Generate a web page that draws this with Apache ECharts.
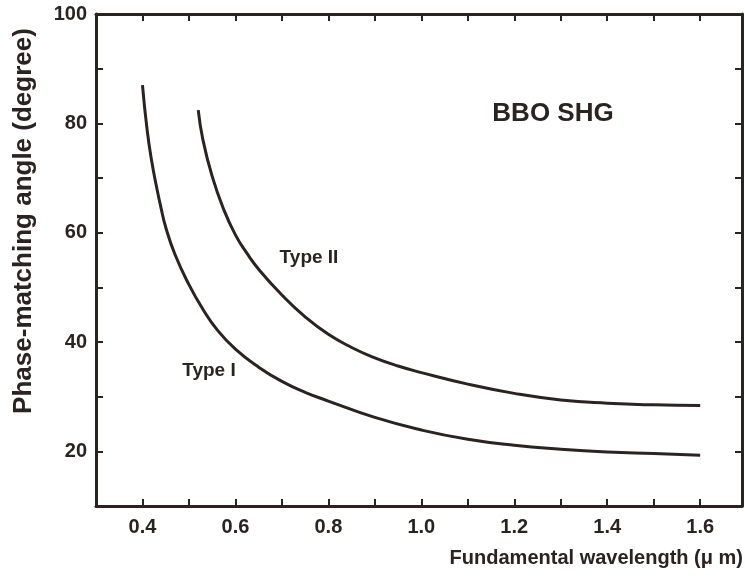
<!DOCTYPE html>
<html>
<head>
<meta charset="utf-8">
<script src="https://cdn.jsdelivr.net/npm/echarts@6.0.0/dist/echarts.min.js"></script>
<style>
  html, body { margin: 0; padding: 0; background: #fff; }
  #chart { width: 745px; height: 580px; }
</style>
</head>
<body>
<div id="chart"></div>
<script>
// values
const typeIWavelength = [0.40, 0.41, 0.42, 0.43, 0.44, 0.45, 0.47, 0.50, 0.53, 0.56, 0.60, 0.65, 0.70, 0.75, 0.80, 0.90, 1.00, 1.10, 1.20, 1.30, 1.40, 1.50, 1.60]
const typeIAngle = [87, 78.8, 73, 68.5, 64.5, 61, 56, 50.5, 46.0, 42.3, 38.7, 35.4, 32.8, 30.8, 29.2, 26.2, 23.9, 22.2, 21.1, 20.4, 19.9, 19.6, 19.3]

const typeIIWavelength = [0.52, 0.53, 0.55, 0.575, 0.60, 0.625, 0.65, 0.70, 0.75, 0.80, 0.85, 0.90, 0.95, 1.00, 1.10, 1.20, 1.30, 1.40, 1.50, 1.60]
const typeIIAngle = [82.4, 77.0, 70.3, 64.2, 59.6, 56.2, 53.3, 48.6, 44.6, 41.4, 39.0, 37.1, 35.6, 34.4, 32.3, 30.6, 29.4, 28.8, 28.5, 28.4]

const xLabels = ['0.4', '0.6', '0.8', '1.0', '1.2', '1.4', '1.6']
const yLabels = ['20', '40', '60', '80', '100']

const ink = '#2a2321'
const font = 'Liberation Sans, Arial, sans-serif'

const chart = echarts.init(document.getElementById('chart'), null, { renderer: 'canvas' })

function pairs(xs, ys) {
  return xs.map((x, i) => [x, ys[i]])
}

function xLabel(v) {
  const s = v.toFixed(1)
  return xLabels.includes(s) && Math.abs(v - Number(s)) < 1e-6 ? s : ''
}

function yLabel(v) {
  const s = String(Math.round(v))
  return yLabels.includes(s) ? s : ''
}

const axisLine = { show: true, lineStyle: { color: ink, width: 3 } }
const axisTick = { show: true, inside: true, length: 7, lineStyle: { color: ink, width: 2 } }

const option = {
  backgroundColor: '#fff',
  animation: false,
  grid: { left: 96, right: 3, top: 14, bottom: 74 },
  xAxis: [
    {
      type: 'value', min: 0.3, max: 1.69, interval: 0.1,
      axisLine, axisTick, splitLine: { show: false },
      axisLabel: { formatter: xLabel, color: ink, fontSize: 20, fontWeight: 'bold', fontFamily: font, margin: 11, showMaxLabel: false },
    },
    {
      type: 'value', position: 'top', min: 0.3, max: 1.69, interval: 0.1,
      axisLine, axisTick, splitLine: { show: false }, axisLabel: { show: false },
    },
  ],
  yAxis: [
    {
      type: 'value', min: 10, max: 100, interval: 10,
      axisLine, axisTick, splitLine: { show: false },
      axisLabel: { formatter: yLabel, color: ink, fontSize: 20, fontWeight: 'bold', fontFamily: font, margin: 9 },
    },
    {
      type: 'value', position: 'right', min: 10, max: 100, interval: 10,
      axisLine, axisTick, splitLine: { show: false }, axisLabel: { show: false },
    },
  ],
  graphic: [
    {
      type: 'text', x: 24, y: 221, rotation: Math.PI / 2,
      style: { text: 'Phase-matching angle (degree)', font: 'bold 26px ' + font, fill: ink, textAlign: 'center', textVerticalAlign: 'middle' },
    },
    {
      type: 'text', x: 743, y: 558,
      style: { text: 'Fundamental wavelength (\u03bc m)', font: 'bold 20px ' + font, fill: ink, textAlign: 'right', textVerticalAlign: 'middle' },
    },
    {
      type: 'text', x: 553, y: 114,
      style: { text: 'BBO SHG', font: 'bold 26px ' + font, fill: ink, textAlign: 'center', textVerticalAlign: 'middle' },
    },
    {
      type: 'text', x: 309, y: 258,
      style: { text: 'Type II', font: 'bold 19px ' + font, fill: ink, textAlign: 'center', textVerticalAlign: 'middle' },
    },
    {
      type: 'text', x: 209, y: 371,
      style: { text: 'Type I', font: 'bold 19px ' + font, fill: ink, textAlign: 'center', textVerticalAlign: 'middle' },
    },
  ],
  series: [
    {
      name: 'Type I', type: 'line', smooth: 0.5, showSymbol: false,
      lineStyle: { color: ink, width: 3 },
      data: pairs(typeIWavelength, typeIAngle),
    },
    {
      name: 'Type II', type: 'line', smooth: 0.5, showSymbol: false,
      lineStyle: { color: ink, width: 3 },
      data: pairs(typeIIWavelength, typeIIAngle),
    },
  ],
}

chart.setOption(option)
</script>
</body>
</html>
